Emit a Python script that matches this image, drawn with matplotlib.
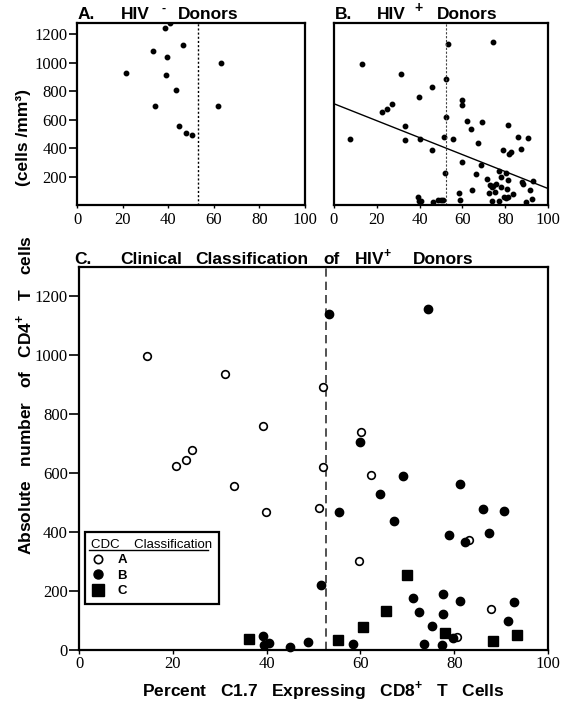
import matplotlib
matplotlib.use('Agg')
import matplotlib.pyplot as plt
from matplotlib.lines import Line2D

plt.rcParams['mathtext.fontset'] = 'custom'
plt.rcParams['mathtext.rm'] = 'Liberation Sans'
plt.rcParams['mathtext.bf'] = 'Liberation Sans:bold'
plt.rcParams['font.family'] = ['Liberation Sans', 'DejaVu Sans']

# ---------------- data ----------------
# Panel A: HIV- donors
a_x = [21.3, 33.4, 38.5, 40.9, 46.3, 39.4, 39.1, 43.4, 34.4, 44.9, 47.7, 50.6, 63.3, 62.0]
a_y = [928, 1082, 1245, 1278, 1128, 1040, 916, 806, 699, 554, 505, 493, 998, 694]

# Panel B: HIV+ donors
b_x = [12.9, 7.6, 31.5, 45.9, 39.6, 27.2, 24.8, 22.3, 33.3, 33.3, 40.0, 45.9, 51.4, 51.7,
       52.3, 52.3, 53.3, 39.4, 39.9, 40.5, 46.1, 48.7, 49.9, 50.8,
       74.4, 60.0, 60.0, 62.0, 69.3, 64.0, 81.2, 55.5, 67.1, 86.1, 90.5, 78.8, 82.7, 81.8,
       87.5, 60.0, 68.8, 66.5, 77.1, 80.2, 77.9, 71.6, 81.5, 88.0, 88.2, 92.8, 72.9, 73.7,
       74.4, 75.7, 78.0, 80.7, 83.5, 64.6, 72.6, 75.2, 91.6, 92.7, 58.6, 58.9, 74.0, 77.2,
       79.4, 80.2, 81.2, 89.6]
b_y = [993, 462, 923, 832, 757, 711, 676, 657, 557, 455, 466, 387, 480, 222,
       617, 883, 1131, 54, 30, 26, 19, 35, 35, 35,
       1149, 741, 701, 594, 585, 531, 562, 466, 438, 478, 473, 389, 373, 362,
       396, 305, 282, 215, 240, 222, 194, 182, 175, 163, 147, 170, 140, 124,
       135, 147, 128, 112, 77, 105, 84, 89, 107, 42, 82, 35, 30, 26,
       54, 49, 54, 19]
# regression line endpoints (panel B)
reg_x = [0, 100]
reg_y = [712, 116]

# Panel C: CDC classification
cA_x = [14.6, 31.1, 39.3, 24.0, 22.8, 20.6, 33.0, 39.9, 52.1, 60.1, 52.0, 62.3, 51.2, 83.2, 59.8, 87.8, 80.7]
cA_y = [997, 937, 762, 680, 646, 625, 558, 467, 893, 739, 621, 593, 482, 375, 303, 138, 45]
cB_x = [53.3, 74.4, 60.0, 39.2, 39.5, 40.6, 45.0, 48.9, 69.1, 81.2, 64.1, 55.5, 86.1, 90.6, 67.2, 78.8,
        87.4, 82.3, 51.5, 71.3, 77.6, 81.2, 92.7, 72.5, 77.6, 75.2, 91.4, 79.8, 58.4, 73.6, 77.5]
cB_y = [1141, 1157, 706, 47, 17, 23, 11, 28, 590, 563, 531, 468, 478, 473, 437, 390,
        398, 366, 220, 175, 190, 167, 163, 130, 122, 81, 98, 42, 20, 20, 17]
cC_x = [36.2, 69.9, 65.5, 60.6, 78.0, 93.4, 88.2, 55.2]
cC_y = [36, 254, 133, 79, 59, 50, 32, 34]

cutoff_A = 53.0
cutoff_B = 52.5
cutoff_C = 52.7

x_ticks = [0, 20, 40, 60, 80, 100]
yA_ticks = [200, 400, 600, 800, 1000, 1200]
yC_ticks = [0, 200, 400, 600, 800, 1000, 1200]

# ---------------- figure ----------------
W, H = 571, 708
fig = plt.figure(figsize=(W / 100, H / 100), dpi=100)


def rect(l, t, r, b):
    return [l / W, 1 - b / H, (r - l) / W, (b - t) / H]


def ftext(x, y, s, **kw):
    fig.text(x / W, 1 - y / H, s, **kw)


serif = 'Liberation Serif'
tick_fs = 12

axA = fig.add_axes(rect(77, 23, 305, 205))
axB = fig.add_axes(rect(334, 23, 548, 205))
axC = fig.add_axes(rect(79, 267, 548, 650))

for ax in (axA, axB, axC):
    for sp in ax.spines.values():
        sp.set_linewidth(1.6)
        sp.set_color('black')
    ax.set_xlim(0, 100)
    ax.set_xticks(x_ticks)
    ax.set_xticklabels([str(t) for t in x_ticks], fontfamily=serif, fontsize=tick_fs)

# Panel A
axA.set_ylim(0, 1280)
axA.plot(a_x, a_y, 'o', color='black', ms=3.2, clip_on=True)
axA.axvline(cutoff_A, color='black', lw=1.0, ls=(0, (1.5, 1.5)))
axA.set_yticks(yA_ticks)
axA.set_yticklabels([str(t) for t in yA_ticks], fontfamily=serif, fontsize=tick_fs)
axA.tick_params(axis='y', direction='out', length=6, width=1.2, pad=1)
axA.tick_params(axis='x', direction='out', length=2, width=1.0, pad=3)

# Panel B
axB.set_ylim(0, 1280)
axB.plot(b_x, b_y, 'o', color='black', ms=3.2)
axB.plot(reg_x, reg_y, '-', color='black', lw=1.0)
axB.axvline(cutoff_B, color='#444444', lw=0.8, ls=(0, (2, 1.5)))
axB.set_yticks([])
axB.tick_params(axis='x', direction='out', length=2, width=1.0, pad=3)

# Panel C
axC.set_ylim(0, 1300)
axC.plot(cA_x, cA_y, 'o', mfc='white', mec='black', mew=1.2, ms=5.5, clip_on=False, zorder=3)
axC.plot(cB_x, cB_y, 'o', color='black', ms=6, clip_on=False, zorder=3)
axC.plot(cC_x, cC_y, 's', color='black', ms=7.5, clip_on=False, zorder=3)
axC.axvline(cutoff_C, color='#333333', lw=1.2, ls=(0, (5, 3)))
axC.set_yticks(yC_ticks)
axC.set_yticklabels([str(t) for t in yC_ticks], fontfamily=serif, fontsize=tick_fs)
axC.tick_params(axis='y', direction='out', length=7, width=1.2, pad=1)
axC.tick_params(axis='x', direction='out', length=3, width=1.0, pad=1)

# legend
handles = [Line2D([], [], marker='o', ls='', mfc='white', mec='black', mew=1.2, ms=6),
           Line2D([], [], marker='o', ls='', color='black', ms=6.5),
           Line2D([], [], marker='s', ls='', color='black', ms=8)]
leg = axC.legend(handles, ['A', 'B', 'C'], title='CDC    Classification',
                 loc='lower left', bbox_to_anchor=(0.012, 0.12), frameon=True,
                 fancybox=False, edgecolor='black', framealpha=1,
                 prop={'weight': 'bold', 'size': 9.5}, title_fontsize=9.5,
                 alignment='left', handlelength=1.0, handletextpad=1.0,
                 labelspacing=0.25, borderpad=0.5, borderaxespad=0)
leg.get_frame().set_linewidth(1.6)
leg.get_title().set_fontfamily('Liberation Sans')
leg.set_zorder(5)
axC.plot([0.022, 0.274], [0.262, 0.262], transform=axC.transAxes, color='black', lw=1.0,
         zorder=10)

# titles
tfs = 12.5
bold = dict(fontsize=tfs, fontweight='bold', va='baseline', ha='left')
ftext(78, 19, 'A.', **bold)
ftext(121, 19, 'HIV', **bold)
ftext(161, 12, '-', fontsize=9, fontweight='bold', va='baseline', ha='left')
ftext(178, 19, 'Donors', **bold)

ftext(335, 19, 'B.', **bold)
ftext(377, 19, 'HIV', **bold)
ftext(414, 12, '+', fontsize=10, fontweight='bold', va='baseline', ha='left')
ftext(437, 19, 'Donors', **bold)

ftext(74, 264, 'C.', **bold)
ftext(120, 264, 'Clinical', **bold)
ftext(195, 264, 'Classification', **bold)
ftext(323, 264, 'of', **bold)
ftext(354, 264, r'HIV$^{\mathbf{+}}$', **bold)
ftext(413, 264, 'Donors', **bold)

# x label
ftext(323, 690, r'Percent   C1.7   Expressing   CD8$^{\mathbf{+}}$   T   Cells',
      fontsize=12.5, fontweight='bold', ha='center', va='center')

# y label
ftext(24, 138, '(cells /mm³)', fontsize=12.5, fontweight='bold', ha='center', va='center',
      rotation=90)
ftext(24, 395, r'Absolute   number   of   CD4$^{\mathbf{+}}$   T   cells', fontsize=12.5,
      fontweight='bold', ha='center', va='center', rotation=90)

fig.savefig('out.png', dpi=100)
